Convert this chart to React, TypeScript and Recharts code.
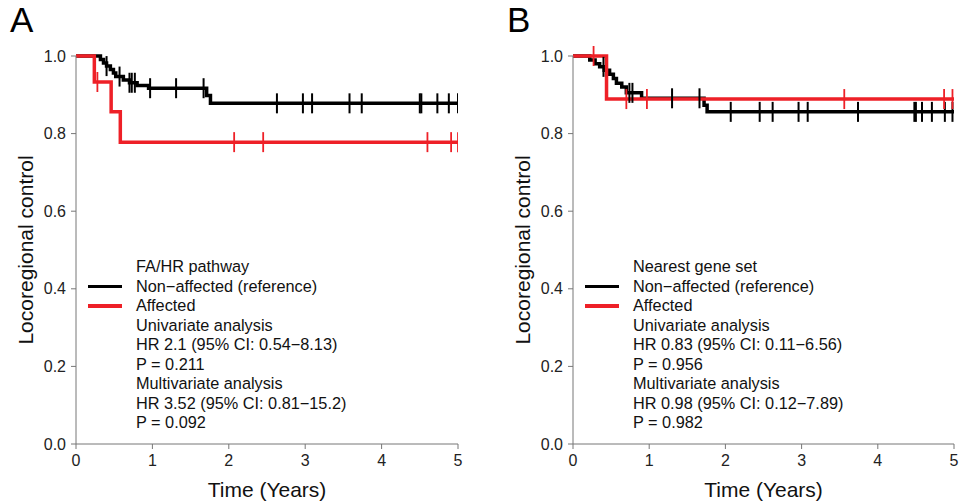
import React from 'react';
import { ComposedChart, Line, Scatter, XAxis, YAxis } from 'recharts';

// Kaplan-Meier step curves: event times (years) and survival level after each step
const aNonTimes = [0, 0.32, 0.36, 0.4, 0.45, 0.49, 0.52, 0.62, 0.7, 0.8, 0.95, 1.71, 1.76, 5];
const aNonSurv = [1, 0.991, 0.982, 0.974, 0.965, 0.956, 0.947, 0.938, 0.931, 0.924, 0.917, 0.898, 0.878, 0.878];
const aNonCensor = [0.4, 0.57, 0.7, 0.73, 0.77, 0.97, 1.31, 1.67, 2.63, 2.97, 3.09, 3.58, 3.74, 4.5, 4.52, 4.73, 4.88, 5];

const aAffTimes = [0, 0.24, 0.46, 0.58, 5];
const aAffSurv = [1, 0.933, 0.856, 0.778, 0.778];
const aAffCensor = [0.28, 2.07, 2.45, 4.6, 4.91, 5];

const bNonTimes = [0, 0.22, 0.29, 0.35, 0.41, 0.48, 0.53, 0.57, 0.64, 0.7, 0.9, 1.72, 1.76, 5];
const bNonSurv = [1, 0.99, 0.98, 0.972, 0.963, 0.953, 0.942, 0.93, 0.92, 0.905, 0.891, 0.873, 0.856, 0.856];
const bNonCensor = [0.4, 0.74, 0.78, 1.3, 1.66, 2.07, 2.45, 2.62, 2.96, 3.08, 3.74, 4.48, 4.5, 4.58, 4.71, 4.88, 4.98];

const bAffTimes = [0, 0.44, 5];
const bAffSurv = [1, 0.889, 0.889];
const bAffCensor = [0.27, 0.7, 0.97, 3.56, 4.87, 4.98];

const xTicks = [0, 1, 2, 3, 4, 5];
const yTicks = [0, 0.2, 0.4, 0.6, 0.8, 1];

const aLegend = [
  'FA/HR pathway',
  'Non\u2212affected (reference)',
  'Affected',
  'Univariate analysis',
  'HR 2.1 (95% CI: 0.54\u22128.13)',
  'P = 0.211',
  'Multivariate analysis',
  'HR 3.52 (95% CI: 0.81\u221215.2)',
  'P = 0.092',
];
const bLegend = [
  'Nearest gene set',
  'Non\u2212affected (reference)',
  'Affected',
  'Univariate analysis',
  'HR 0.83 (95% CI: 0.11\u22126.56)',
  'P = 0.956',
  'Multivariate analysis',
  'HR 0.98 (95% CI: 0.12\u22127.89)',
  'P = 0.982',
];

const BLACK = '#000000';
const RED = '#ee2027';
const AXIS = '#777777';
const FONT = '"Liberation Sans", Arial, Helvetica, sans-serif';

type Pt = { t: number; s: number };

function toCurve(times: number[], surv: number[]): Pt[] {
  return times.map((t, i) => ({ t, s: surv[i] }));
}

// censored subjects sit on the curve level in force at their time
function toCensor(times: number[], surv: number[], censor: number[]): Pt[] {
  return censor.map((c) => {
    let s = surv[0];
    for (let i = 0; i < times.length; i += 1) {
      if (times[i] <= c) s = surv[i];
    }
    return { t: c, s };
  });
}

function censorMark(color: string, width: number) {
  return (props: any) => {
    const { cx, cy } = props;
    return <line x1={cx} x2={cx} y1={cy - 10} y2={cy + 10} stroke={color} strokeWidth={width} />;
  };
}

interface PanelProps {
  letter: string;
  left: number;
  width: number;
  rightMargin: number;
  nonTimes: number[];
  nonSurv: number[];
  nonCensor: number[];
  affTimes: number[];
  affSurv: number[];
  affCensor: number[];
  legend: string[];
}

function KmPanel(p: PanelProps) {
  const nonCurve = toCurve(p.nonTimes, p.nonSurv);
  const affCurve = toCurve(p.affTimes, p.affSurv);
  const nonMarks = toCensor(p.nonTimes, p.nonSurv, p.nonCensor);
  const affMarks = toCensor(p.affTimes, p.affSurv, p.affCensor);

  return (
    <div style={{ position: 'absolute', left: p.left, top: 0, width: p.width, height: 501 }}>
      <ComposedChart width={p.width} height={501} margin={{ top: 56, right: p.rightMargin, bottom: 0, left: 0 }}>
        <XAxis
          type="number"
          dataKey="t"
          domain={[0, 5]}
          ticks={xTicks}
          allowDataOverflow
          height={57}
          stroke={AXIS}
          tickSize={5}
          tickMargin={6}
          tick={{ fill: '#222', fontSize: 16, fontFamily: FONT }}
          label={{
            value: 'Time (Years)',
            position: 'insideBottom',
            offset: 4,
            style: { fill: '#111', fontSize: 21, fontFamily: FONT },
          }}
        />
        <YAxis
          type="number"
          dataKey="s"
          domain={[0, 1]}
          ticks={yTicks}
          width={76}
          stroke={AXIS}
          tickSize={5}
          tickMargin={5}
          tickFormatter={(v: number) => v.toFixed(1)}
          tick={{ fill: '#222', fontSize: 16, fontFamily: FONT }}
          label={{
            value: 'Locoregional control',
            angle: -90,
            position: 'insideLeft',
            offset: 26,
            style: { fill: '#111', fontSize: 21, fontFamily: FONT, textAnchor: 'middle' },
          }}
        />
        <Line
          data={nonCurve}
          dataKey="s"
          type="stepAfter"
          stroke={BLACK}
          strokeWidth={3.5}
          dot={false}
          activeDot={false}
          isAnimationActive={false}
        />
        <Scatter data={nonMarks} dataKey="s" shape={censorMark(BLACK, 2)} isAnimationActive={false} />
        <Line
          data={affCurve}
          dataKey="s"
          type="stepAfter"
          stroke={RED}
          strokeWidth={3.5}
          dot={false}
          activeDot={false}
          isAnimationActive={false}
        />
        <Scatter data={affMarks} dataKey="s" shape={censorMark(RED, 1.8)} isAnimationActive={false} />
      </ComposedChart>

      <div style={{ position: 'absolute', left: 10, top: 0, fontFamily: FONT, fontSize: 35, color: '#000' }}>
        {p.letter}
      </div>

      <div style={{ position: 'absolute', left: 88, top: 257, fontFamily: FONT, fontSize: 16.3, lineHeight: '19.5px', color: '#111' }}>
        {p.legend.map((txt, i) => (
          <div key={i} style={{ display: 'flex', alignItems: 'center', height: 19.5, whiteSpace: 'nowrap' }}>
            <span
              style={{
                display: 'inline-block',
                width: 34,
                height: 3.5,
                marginRight: 14,
                background: i === 1 ? BLACK : i === 2 ? RED : 'transparent',
              }}
            />
            {txt}
          </div>
        ))}
      </div>
    </div>
  );
}

export default function App() {
  return (
    <div style={{ position: 'absolute', left: 0, top: 0, width: 959, height: 501, background: '#fff' }}>
      <KmPanel
        letter="A"
        left={0}
        width={480}
        rightMargin={22}
        nonTimes={aNonTimes}
        nonSurv={aNonSurv}
        nonCensor={aNonCensor}
        affTimes={aAffTimes}
        affSurv={aAffSurv}
        affCensor={aAffCensor}
        legend={aLegend}
      />
      <KmPanel
        letter="B"
        left={497}
        width={462}
        rightMargin={5}
        nonTimes={bNonTimes}
        nonSurv={bNonSurv}
        nonCensor={bNonCensor}
        affTimes={bAffTimes}
        affSurv={bAffSurv}
        affCensor={bAffCensor}
        legend={bLegend}
      />
    </div>
  );
}
